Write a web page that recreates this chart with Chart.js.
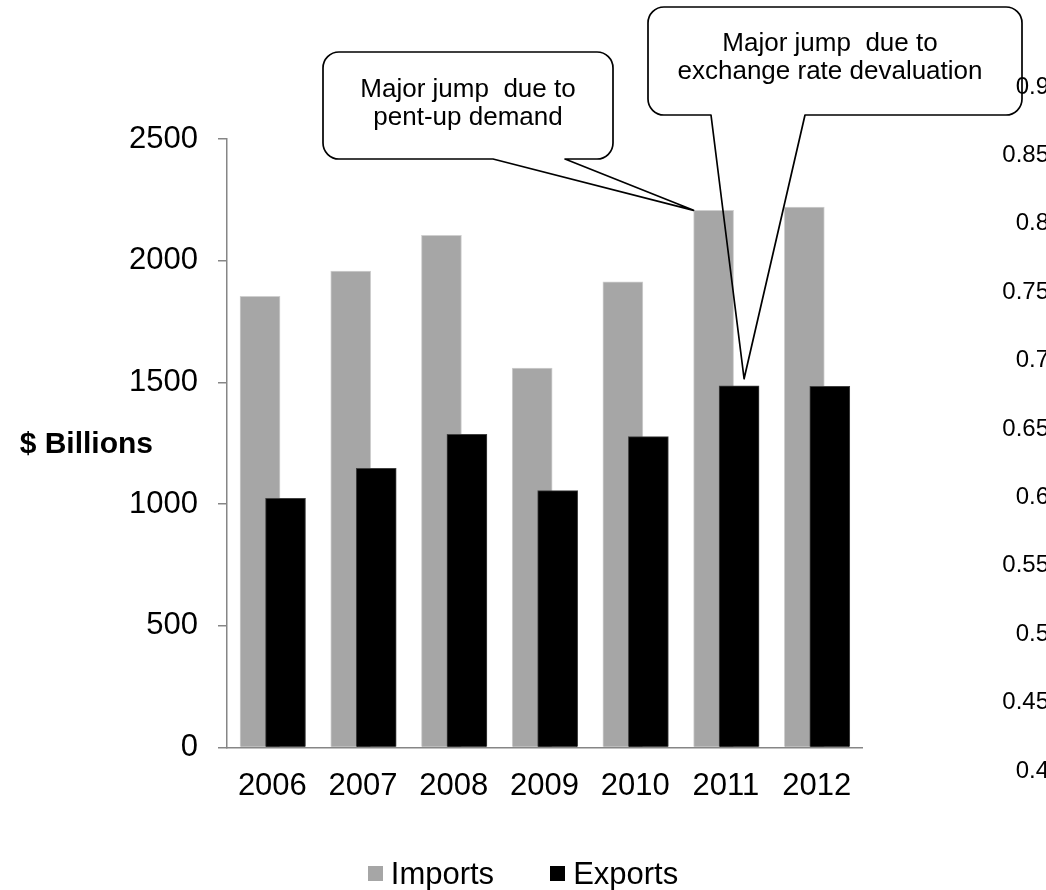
<!DOCTYPE html>
<html>
<head>
<meta charset="utf-8">
<title>Imports and Exports</title>
<script src="https://cdn.jsdelivr.net/npm/chart.js@4.4.1/dist/chart.umd.min.js"></script>
<style>
  html, body { margin: 0; padding: 0; background: #fff; }
  #wrap { position: relative; width: 1046px; height: 890px; overflow: hidden; font-family: 'Liberation Sans', Arial, sans-serif; }
  #main { position: absolute; left: 0; top: 0; }
  #side { position: absolute; left: 900px; top: 0; }
  #ytitle { position: absolute; left: 0; top: 428px; width: 153px; text-align: right; font: bold 30px/30px 'Liberation Sans', Arial, sans-serif; color: #000; }
  #legend { position: absolute; left: 0; top: 858px; width: 1046px; display: flex; justify-content: center; gap: 56px; font: 31px/31px 'Liberation Sans', Arial, sans-serif; color: #000; }
  #legend .item { display: flex; align-items: flex-start; }
  #legend .sw { width: 15px; height: 15px; margin: 8px 8px 0 0; }
</style>
</head>
<body>
<div id="wrap">
  <canvas id="main" width="1046" height="890"></canvas>
  <canvas id="side" width="200" height="890"></canvas>
  <div id="ytitle">$ Billions</div>
  <div id="legend"></div>
</div>
<script>
  // ----- data ($ billions) -----
  const years = ['2006', '2007', '2008', '2009', '2010', '2011', '2012'];
  const importsBn = [1853, 1957, 2104, 1559, 1913, 2207, 2220];
  const exportsBn = [1023, 1147, 1286, 1055, 1277, 1486, 1484];
  const yTicks = [0, 500, 1000, 1500, 2000, 2500];
  // stray axis of a neighbouring chart, cut off at the right edge
  const sideTicks = [0.4, 0.45, 0.5, 0.55, 0.6, 0.65, 0.7, 0.75, 0.8, 0.85, 0.9];

  const seriesNames = ['Imports', 'Exports'];
  const seriesColors = ['#a6a6a6', '#000000'];

  // callout texts and which bar each one points at
  const calloutYear = '2011';
  const callout1Lines = ['Major jump  due to', 'pent-up demand'];
  const callout2Lines = ['Major jump  due to', 'exchange rate devaluation'];

  const FONT = "'Liberation Sans', Arial, sans-serif";
  const AXIS_GREY = '#868686';
  // Excel-style overlapping bars: shift of each series from the category centre
  const IMPORT_SHIFT = -0.136;
  const EXPORT_SHIFT = 0.145;

  // legend (html)
  const legendEl = document.getElementById('legend');
  seriesNames.forEach((name, i) => {
    const item = document.createElement('div');
    item.className = 'item';
    item.innerHTML = `<span class="sw" style="background:${seriesColors[i]}"></span><span>${name}</span>`;
    legendEl.appendChild(item);
  });

  function roundedOutline(ctx, box, r, tip) {
    const { l, t, rt, b, base1, base2 } = box;
    ctx.beginPath();
    ctx.moveTo(l + r, t);
    ctx.lineTo(rt - r, t);
    ctx.arcTo(rt, t, rt, t + r, r);
    ctx.lineTo(rt, b - r);
    ctx.arcTo(rt, b, rt - r, b, r);
    ctx.lineTo(base2, b);
    ctx.lineTo(tip.x, tip.y);
    ctx.lineTo(base1, b);
    ctx.lineTo(l + r, b);
    ctx.arcTo(l, b, l, b - r, r);
    ctx.lineTo(l, t + r);
    ctx.arcTo(l, t, l + r, t, r);
    ctx.closePath();
  }

  function drawCallout(ctx, box, tip, lines, fontSize, baselines, cx) {
    const r = 16;
    ctx.save();
    // white body, pointer left unfilled
    ctx.beginPath();
    ctx.roundRect(box.l, box.t, box.rt - box.l, box.b - box.t, r);
    ctx.fillStyle = '#fff';
    ctx.fill();
    roundedOutline(ctx, box, r, tip);
    ctx.strokeStyle = '#000';
    ctx.lineWidth = 1.7;
    ctx.lineJoin = 'round';
    ctx.stroke();
    ctx.fillStyle = '#000';
    ctx.font = `${fontSize}px ${FONT}`;
    ctx.textAlign = 'center';
    ctx.textBaseline = 'alphabetic';
    lines.forEach((txt, i) => ctx.fillText(txt, cx, baselines[i]));
    ctx.restore();
  }

  const calloutPlugin = {
    id: 'callouts',
    afterDraw(chart) {
      const idx = years.indexOf(calloutYear);
      const imp = chart.getDatasetMeta(0).data[idx];
      const exp = chart.getDatasetMeta(1).data[idx];
      const ctx = chart.ctx;
      // pent-up demand -> top-left corner of the 2011 imports bar
      drawCallout(ctx,
        { l: 323, t: 52, rt: 613, b: 159, base1: 493, base2: 565 },
        { x: imp.x - imp.width / 2, y: imp.y },
        callout1Lines, 26, [97, 125], 468);
      // devaluation -> just above the 2011 exports bar
      drawCallout(ctx,
        { l: 648, t: 7, rt: 1022, b: 115, base1: 711, base2: 805 },
        { x: exp.x + 5, y: exp.y - 7 },
        callout2Lines, 26, [51, 79], 830);
    }
  };

  new Chart(document.getElementById('main'), {
    type: 'bar',
    data: {
      datasets: [
        {
          label: seriesNames[0],
          data: importsBn.map((v, i) => ({ x: i + IMPORT_SHIFT, y: v })),
          backgroundColor: seriesColors[0],
          borderColor: '#cfcfcf',
          borderWidth: 1,
          barThickness: 40,
          grouped: false,
          order: 1,
        },
        {
          label: seriesNames[1],
          data: exportsBn.map((v, i) => ({ x: i + EXPORT_SHIFT, y: v })),
          backgroundColor: seriesColors[1],
          borderColor: '#404040',
          borderWidth: 1,
          barThickness: 40,
          grouped: false,
          order: 0,
        },
      ],
    },
    options: {
      responsive: false,
      animation: false,
      devicePixelRatio: 1,
      layout: { padding: { left: 0, top: 139, right: 184, bottom: 0 } },
      plugins: { legend: { display: false }, tooltip: { enabled: false } },
      scales: {
        x: {
          type: 'linear',
          offset: false,
          min: -0.5,
          max: years.length - 0.5,
          afterBuildTicks: (scale) => { scale.ticks = years.map((_, i) => ({ value: i })); },
          afterFit: (scale) => { scale.height = 142.6; },
          grid: { display: true, drawOnChartArea: false, drawTicks: false, offset: false },
          border: { display: true, color: AXIS_GREY, width: 1.5 },
          ticks: {
            padding: 20,
            color: '#000',
            font: { family: FONT, size: 31 },
            maxRotation: 0,
            autoSkip: false,
            callback: (v) => years[v],
          },
        },
        y: {
          min: yTicks[0],
          max: yTicks[yTicks.length - 1],
          afterBuildTicks: (scale) => { scale.ticks = yTicks.map(v => ({ value: v })); },
          afterFit: (scale) => { scale.width = 227; },
          grid: { drawOnChartArea: false, drawTicks: true, tickLength: 9, color: AXIS_GREY, lineWidth: 1.5 },
          border: { display: true, color: AXIS_GREY, width: 1.5 },
          ticks: {
            padding: 20,
            color: '#000',
            font: { family: FONT, size: 31 },
            callback: (v) => String(v),
          },
        },
      },
    },
    plugins: [calloutPlugin],
  });

  // second canvas: the clipped value axis at the right edge
  new Chart(document.getElementById('side'), {
    type: 'line',
    data: { labels: [], datasets: [] },
    options: {
      responsive: false,
      animation: false,
      devicePixelRatio: 1,
      layout: { padding: { top: 87, bottom: 119, right: 0, left: 0 } },
      plugins: { legend: { display: false }, tooltip: { enabled: false } },
      scales: {
        x: { display: false },
        y: {
          min: sideTicks[0],
          max: sideTicks[sideTicks.length - 1],
          afterBuildTicks: (scale) => { scale.ticks = sideTicks.map(v => ({ value: v })); },
          afterFit: (scale) => { scale.width = 149; },
          grid: { display: false, drawTicks: false },
          border: { display: false },
          ticks: {
            padding: 0,
            color: '#000',
            font: { family: FONT, size: 24 },
            callback: (v) => String(v),
          },
        },
      },
    },
  });
</script>
</body>
</html>
